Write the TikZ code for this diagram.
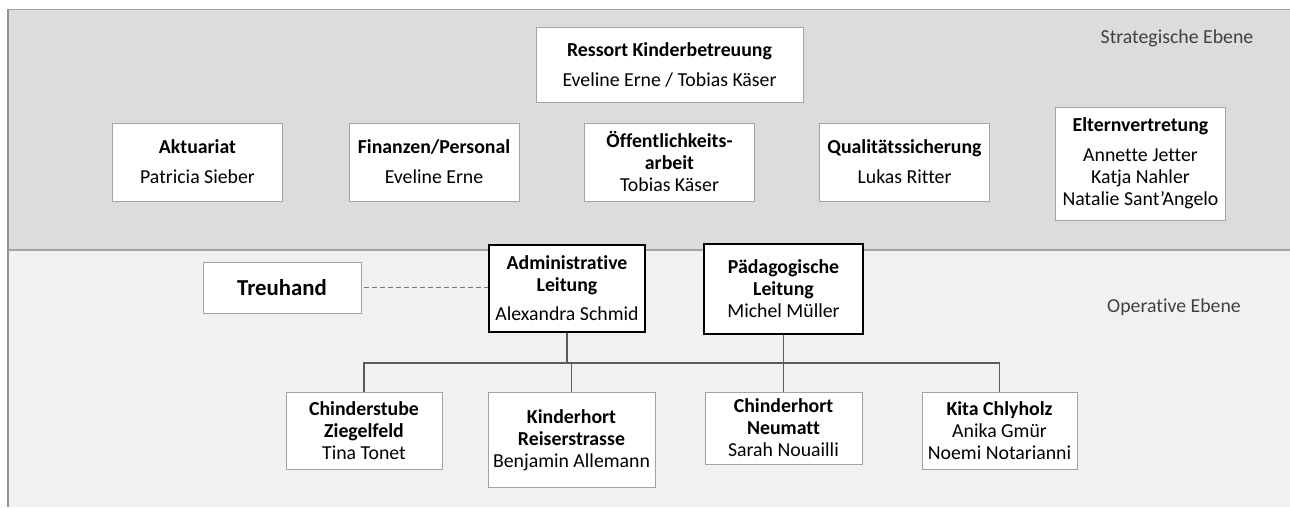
\documentclass[tikz,border=0pt]{standalone}
\usepackage{fontspec}
\setmainfont{Carlito}[Ligatures=NoCommon]
\usetikzlibrary{positioning, calc}
\definecolor{strat}{HTML}{DCDCDC}
\definecolor{oper}{HTML}{F1F1F1}
\definecolor{rim}{HTML}{A3A3A3}
\definecolor{wire}{HTML}{5A5A5A}
\definecolor{ebene}{HTML}{404040}

\begin{document}
\begin{tikzpicture}[x=1pt, y=-1pt,
        unit/.style={draw=rim, fill=white, line width=0.9pt, inner sep=0pt, align=center,
            font=\fontsize{19.8}{22}\selectfont, minimum width=170, minimum height=78},
        lead/.style={unit, draw=black, line width=1.3pt},
        link/.style={draw=wire, line width=1.1pt},
        dotlink/.style={draw=wire!80, line width=1pt, dash pattern=on 5pt off 3pt, shorten <=3pt},
        ebene/.style={text=ebene, font=\fontsize{19.8}{22}\selectfont}]
            \useasboundingbox (0,0) rectangle (1290,507);
            \fill[strat] (8,9) rectangle (1290,250);
            \fill[oper] (8,250) rectangle (1290,507);
            \draw[rim, line width=1pt] (8,9) -- (1290,9);
            \draw[rim, line width=1.8pt] (8,250) -- (1290,250);
            \draw[rim!90!black, line width=2pt] (8,507) -- (8,9);

            \node[ebene] (strategie) at (1177,38) {Strategische Ebene};
            \node[ebene] (operativ) at (1174,307) {Operative Ebene};

            \node[unit, minimum width=267, minimum height=75] (ressort) at (669.5,64.5)
                {\textbf{Ressort Kinderbetreuung}\\[8pt]Eveline Erne / Tobias Käser};
            \node[unit] (aktuariat) at (197.5,162) {\textbf{Aktuariat}\\[8pt]Patricia Sieber};
            \node[unit] (finanzen) at (434,162) {\textbf{Finanzen/Personal}\\[8pt]Eveline Erne};
            \node[unit] (oeffentlich) at (669.5,162) {\textbf{Öffentlichkeits-}\\\textbf{arbeit}\\Tobias Käser};
            \node[unit] (qualitaet) at (904.5,162) {\textbf{Qualitätssicherung}\\[8pt]Lukas Ritter};
            \node[unit, minimum height=113] (eltern) at (1140.5,163.5)
                {\textbf{Elternvertretung}\\[8pt]Annette Jetter\\Katja Nahler\\Natalie Sant’Angelo};

            \node[unit, minimum width=158, minimum height=51, font=\fontsize{22.8}{26}\selectfont] (treuhand) at (282,287.5)
                {\textbf{Treuhand}};
            \node[lead, minimum width=156, minimum height=87] (admin) at (567,288.5)
                {\textbf{Administrative}\\\textbf{Leitung}\\[7pt]Alexandra Schmid};
            \node[lead, minimum width=159, minimum height=90] (paed) at (783.5,289)
                {\textbf{Pädagogische}\\\textbf{Leitung}\\Michel Müller};

            \node[unit, minimum width=156, minimum height=77] (stube) at (364,431)
                {\textbf{Chinderstube}\\\textbf{Ziegelfeld}\\Tina Tonet};
            \node[unit, minimum width=167, minimum height=95] (hort) at (571.5,440)
                {\textbf{Kinderhort}\\\textbf{Reiserstrasse}\\Benjamin Allemann};
            \node[unit, minimum width=157, minimum height=72] (neumatt) at (783.5,428)
                {\textbf{Chinderhort}\\\textbf{Neumatt}\\Sarah Nouailli};
            \node[unit, minimum width=155, minimum height=77] (kita) at (999.5,430.5)
                {\textbf{Kita Chlyholz}\\Anika Gmür\\Noemi Notarianni};

            \coordinate (bus) at (0,363);
            \draw[dotlink] (treuhand.east) -- (treuhand.east -| admin.west);
            \draw[link] (admin.south) -- (admin.south |- bus);
            \draw[link] (paed.south) -- (neumatt.north);
            \draw[link] (stube.north) -- (stube.north |- bus) -- (kita.north |- bus) -- (kita.north);
            \draw[link] (hort.north) -- (hort.north |- bus);
        \end{tikzpicture}
\end{document}
